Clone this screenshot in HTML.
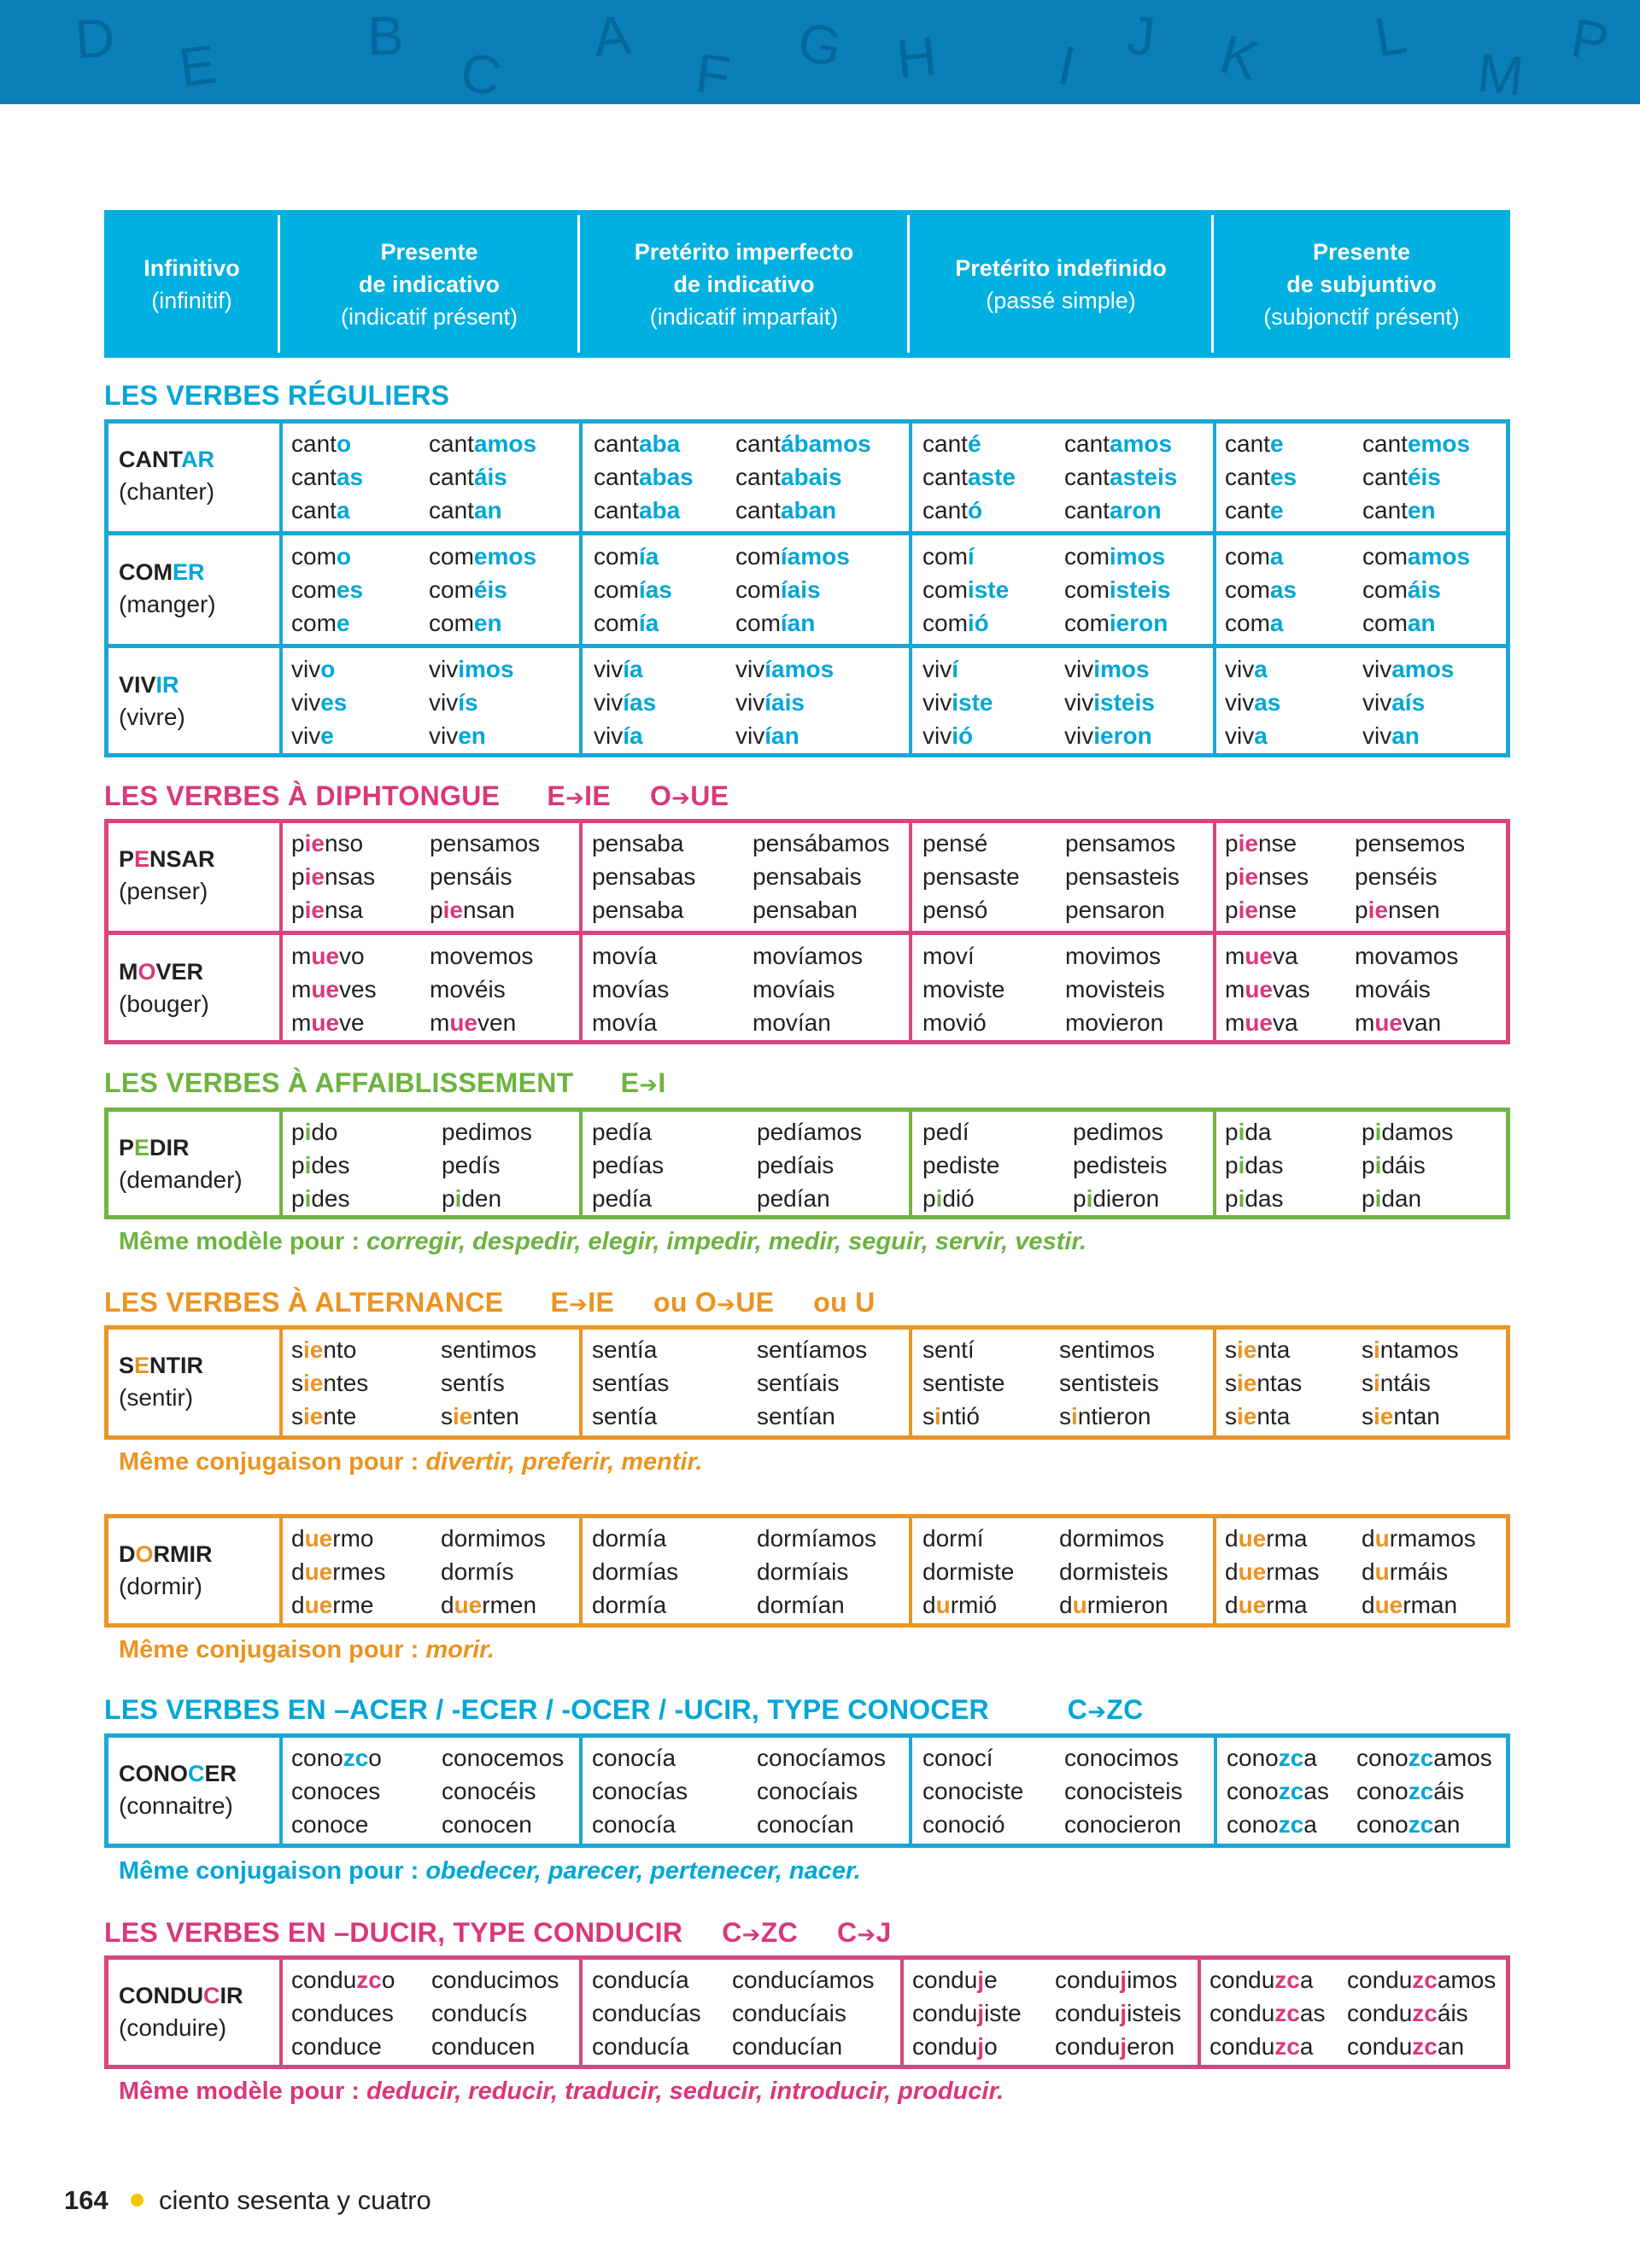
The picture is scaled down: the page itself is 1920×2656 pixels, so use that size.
<!DOCTYPE html>
<html><head><meta charset="utf-8">
<style>
*{margin:0;padding:0;box-sizing:border-box}
body{width:1920px;height:2656px;position:relative;background:#fff;font-family:"Liberation Sans",sans-serif;color:#231f20;overflow:hidden}
.band{position:absolute;left:0;top:0;width:1920px;height:122px;background:#0a7fb8;overflow:hidden}
.band span{position:absolute;color:#05689c;font-size:64px;font-family:"Liberation Sans",sans-serif}
.hdr{position:absolute;left:122px;top:246px;width:1646px;height:173px;background:#00b0e0}
.hc{position:absolute;top:0;height:173px;display:flex;flex-direction:column;justify-content:center;align-items:center;text-align:center;color:#fff;font-size:27px;line-height:38px}
.hc b{font-weight:bold}
.hd{position:absolute;top:6px;width:3px;height:161px;background:#fff}
.t{position:absolute;left:122px;font-weight:bold;font-size:32px;line-height:36px;letter-spacing:0.3px;white-space:nowrap}
.ar{font-family:"DejaVu Sans",sans-serif;font-size:26px}
.tb{position:absolute;left:122px;width:1646px;border:5px solid}
.v{position:absolute;top:0;bottom:0;width:4px}
.hl{position:absolute;left:0;right:0;height:5px}
.r{position:absolute;left:0;width:1920px;height:132px}
.w{position:absolute;top:9px;font-size:28px;line-height:39px;white-space:nowrap}
.inf{position:absolute;top:28px;left:139px;font-size:28px;line-height:38px;white-space:nowrap}
.inf strong{font-weight:bold;font-size:27px}
b{font-weight:bold}
.blue b,.blue .t{color:#00a6d6}
.pink b{color:#d9387a}
.green b{color:#6cb33f}
.orange b{color:#ec9320}
.note{position:absolute;left:139px;font-weight:bold;font-size:29px;line-height:32px;white-space:nowrap}
.note i{font-style:italic}
</style></head><body>
<div class="band">
<span style="left:88px;top:8px;transform:rotate(-4deg)">D</span>
<span style="left:210px;top:40px;transform:rotate(-8deg)">E</span>
<span style="left:430px;top:5px">B</span>
<span style="left:540px;top:50px;transform:rotate(10deg)">C</span>
<span style="left:695px;top:5px;transform:rotate(-6deg)">A</span>
<span style="left:815px;top:50px;transform:rotate(8deg)">F</span>
<span style="left:935px;top:15px;transform:rotate(10deg)">G</span>
<span style="left:1050px;top:30px;transform:rotate(-6deg)">H</span>
<span style="left:1240px;top:40px;transform:rotate(12deg)">I</span>
<span style="left:1320px;top:5px;transform:rotate(6deg)">J</span>
<span style="left:1430px;top:30px;transform:rotate(15deg)">K</span>
<span style="left:1610px;top:5px;transform:rotate(-10deg)">L</span>
<span style="left:1730px;top:50px;transform:rotate(6deg)">M</span>
<span style="left:1840px;top:10px;transform:rotate(10deg)">P</span>
</div>

<div class="hdr">
<div class="hc" style="left:0;width:205px"><b>Infinitivo</b><span>(infinitif)</span></div>
<div class="hd" style="left:203px"></div>
<div class="hc" style="left:205px;width:351px"><b>Presente</b><b>de indicativo</b><span>(indicatif présent)</span></div>
<div class="hd" style="left:554px"></div>
<div class="hc" style="left:556px;width:386px"><b>Pretérito imperfecto</b><b>de indicativo</b><span>(indicatif imparfait)</span></div>
<div class="hd" style="left:940px"></div>
<div class="hc" style="left:942px;width:356px"><b>Pretérito indefinido</b><span>(passé simple)</span></div>
<div class="hd" style="left:1296px"></div>
<div class="hc" style="left:1298px;width:348px"><b>Presente</b><b>de subjuntivo</b><span>(subjonctif présent)</span></div>
</div>

<!-- REGULARS -->
<div class="blue">
<div class="t" style="top:445px">LES VERBES RÉGULIERS</div>
<div class="tb" style="top:491px;height:396px;border-color:#1aa7d4">
<div class="v" style="left:200px;background:#1aa7d4"></div>
<div class="v" style="left:551px;background:#1aa7d4"></div>
<div class="v" style="left:937px;background:#1aa7d4"></div>
<div class="v" style="left:1293px;background:#1aa7d4"></div>
<div class="hl" style="top:126px;background:#1aa7d4"></div>
<div class="hl" style="top:258px;background:#1aa7d4"></div>
</div>
<div class="r" style="top:491px">
<div class="inf"><strong>CANT<b>AR</b></strong><br>(chanter)</div>
<div class="w" style="left:341px">cant<b>o</b><br>cant<b>as</b><br>cant<b>a</b></div>
<div class="w" style="left:502px">cant<b>amos</b><br>cant<b>áis</b><br>cant<b>an</b></div>
<div class="w" style="left:695px">cant<b>aba</b><br>cant<b>abas</b><br>cant<b>aba</b></div>
<div class="w" style="left:861px">cant<b>ábamos</b><br>cant<b>abais</b><br>cant<b>aban</b></div>
<div class="w" style="left:1080px">cant<b>é</b><br>cant<b>aste</b><br>cant<b>ó</b></div>
<div class="w" style="left:1246px">cant<b>amos</b><br>cant<b>asteis</b><br>cant<b>aron</b></div>
<div class="w" style="left:1434px">cant<b>e</b><br>cant<b>es</b><br>cant<b>e</b></div>
<div class="w" style="left:1595px">cant<b>emos</b><br>cant<b>éis</b><br>cant<b>en</b></div>
</div>
<div class="r" style="top:623px">
<div class="inf"><strong>COM<b>ER</b></strong><br>(manger)</div>
<div class="w" style="left:341px">com<b>o</b><br>com<b>es</b><br>com<b>e</b></div>
<div class="w" style="left:502px">com<b>emos</b><br>com<b>éis</b><br>com<b>en</b></div>
<div class="w" style="left:695px">com<b>ía</b><br>com<b>ías</b><br>com<b>ía</b></div>
<div class="w" style="left:861px">com<b>íamos</b><br>com<b>íais</b><br>com<b>ían</b></div>
<div class="w" style="left:1080px">com<b>í</b><br>com<b>iste</b><br>com<b>ió</b></div>
<div class="w" style="left:1246px">com<b>imos</b><br>com<b>isteis</b><br>com<b>ieron</b></div>
<div class="w" style="left:1434px">com<b>a</b><br>com<b>as</b><br>com<b>a</b></div>
<div class="w" style="left:1595px">com<b>amos</b><br>com<b>áis</b><br>com<b>an</b></div>
</div>
<div class="r" style="top:755px">
<div class="inf"><strong>VIV<b>IR</b></strong><br>(vivre)</div>
<div class="w" style="left:341px">viv<b>o</b><br>viv<b>es</b><br>viv<b>e</b></div>
<div class="w" style="left:502px">viv<b>imos</b><br>viv<b>ís</b><br>viv<b>en</b></div>
<div class="w" style="left:695px">viv<b>ía</b><br>viv<b>ías</b><br>viv<b>ía</b></div>
<div class="w" style="left:861px">viv<b>íamos</b><br>viv<b>íais</b><br>viv<b>ían</b></div>
<div class="w" style="left:1080px">viv<b>í</b><br>viv<b>iste</b><br>viv<b>ió</b></div>
<div class="w" style="left:1246px">viv<b>imos</b><br>viv<b>isteis</b><br>viv<b>ieron</b></div>
<div class="w" style="left:1434px">viv<b>a</b><br>viv<b>as</b><br>viv<b>a</b></div>
<div class="w" style="left:1595px">viv<b>amos</b><br>viv<b>aís</b><br>viv<b>an</b></div>
</div>
</div>

<!-- DIPHTONGUE -->
<div class="pink">
<div class="t" style="top:914px;color:#d9387a">LES VERBES À DIPHTONGUE &nbsp;&nbsp;&nbsp;&nbsp; E<span class="ar">➔</span>IE &nbsp;&nbsp;&nbsp; O<span class="ar">➔</span>UE</div>
<div class="tb" style="top:959px;height:264px;border-color:#d9457d">
<div class="v" style="left:200px;background:#d9457d"></div>
<div class="v" style="left:551px;background:#d9457d"></div>
<div class="v" style="left:937px;background:#d9457d"></div>
<div class="v" style="left:1293px;background:#d9457d"></div>
<div class="hl" style="top:126px;background:#d9457d"></div>
</div>
<div class="r" style="top:959px">
<div class="inf"><strong>P<b>E</b>NSAR</strong><br>(penser)</div>
<div class="w" style="left:341px">p<b>ie</b>nso<br>p<b>ie</b>nsas<br>p<b>ie</b>nsa</div>
<div class="w" style="left:503px">pensamos<br>pensáis<br>p<b>ie</b>nsan</div>
<div class="w" style="left:693px">pensaba<br>pensabas<br>pensaba</div>
<div class="w" style="left:881px">pensábamos<br>pensabais<br>pensaban</div>
<div class="w" style="left:1080px">pensé<br>pensaste<br>pensó</div>
<div class="w" style="left:1247px">pensamos<br>pensasteis<br>pensaron</div>
<div class="w" style="left:1434px">p<b>ie</b>nse<br>p<b>ie</b>nses<br>p<b>ie</b>nse</div>
<div class="w" style="left:1586px">pensemos<br>penséis<br>p<b>ie</b>nsen</div>
</div>
<div class="r" style="top:1091px">
<div class="inf"><strong>M<b>O</b>VER</strong><br>(bouger)</div>
<div class="w" style="left:341px">m<b>ue</b>vo<br>m<b>ue</b>ves<br>m<b>ue</b>ve</div>
<div class="w" style="left:503px">movemos<br>movéis<br>m<b>ue</b>ven</div>
<div class="w" style="left:693px">movía<br>movías<br>movía</div>
<div class="w" style="left:881px">movíamos<br>movíais<br>movían</div>
<div class="w" style="left:1080px">moví<br>moviste<br>movió</div>
<div class="w" style="left:1247px">movimos<br>movisteis<br>movieron</div>
<div class="w" style="left:1434px">m<b>ue</b>va<br>m<b>ue</b>vas<br>m<b>ue</b>va</div>
<div class="w" style="left:1586px">movamos<br>mováis<br>m<b>ue</b>van</div>
</div>
</div>

<!-- AFFAIBLISSEMENT -->
<div class="green">
<div class="t" style="top:1250px;color:#6cb33f">LES VERBES À AFFAIBLISSEMENT &nbsp;&nbsp;&nbsp;&nbsp; E<span class="ar">➔</span>I</div>
<div class="tb" style="top:1297px;height:131px;border-color:#72b443">
<div class="v" style="left:200px;background:#72b443"></div>
<div class="v" style="left:551px;background:#72b443"></div>
<div class="v" style="left:937px;background:#72b443"></div>
<div class="v" style="left:1293px;background:#72b443"></div>
</div>
<div class="r" style="top:1297px">
<div class="inf"><strong>P<b>E</b>DIR</strong><br>(demander)</div>
<div class="w" style="left:341px">p<b>i</b>do<br>p<b>i</b>des<br>p<b>i</b>des</div>
<div class="w" style="left:517px">pedimos<br>pedís<br>p<b>i</b>den</div>
<div class="w" style="left:693px">pedía<br>pedías<br>pedía</div>
<div class="w" style="left:886px">pedíamos<br>pedíais<br>pedían</div>
<div class="w" style="left:1080px">pedí<br>pediste<br>p<b>i</b>dió</div>
<div class="w" style="left:1256px">pedimos<br>pedisteis<br>p<b>i</b>dieron</div>
<div class="w" style="left:1434px">p<b>i</b>da<br>p<b>i</b>das<br>p<b>i</b>das</div>
<div class="w" style="left:1594px">p<b>i</b>damos<br>p<b>i</b>dáis<br>p<b>i</b>dan</div>
</div>
<div class="note" style="top:1438px;color:#6cb33f">Même modèle pour : <i>corregir, despedir, elegir, impedir, medir, seguir, servir, vestir.</i></div>
</div>

<!-- ALTERNANCE -->
<div class="orange">
<div class="t" style="top:1507px;color:#ec9320">LES VERBES À ALTERNANCE &nbsp;&nbsp;&nbsp;&nbsp; E<span class="ar">➔</span>IE &nbsp;&nbsp;&nbsp; ou O<span class="ar">➔</span>UE &nbsp;&nbsp;&nbsp; ou U</div>
<div class="tb" style="top:1552px;height:134px;border-color:#ea9428">
<div class="v" style="left:200px;background:#ea9428"></div>
<div class="v" style="left:551px;background:#ea9428"></div>
<div class="v" style="left:937px;background:#ea9428"></div>
<div class="v" style="left:1293px;background:#ea9428"></div>
</div>
<div class="r" style="top:1552px">
<div class="inf"><strong>S<b>E</b>NTIR</strong><br>(sentir)</div>
<div class="w" style="left:341px">s<b>ie</b>nto<br>s<b>ie</b>ntes<br>s<b>ie</b>nte</div>
<div class="w" style="left:516px">sentimos<br>sentís<br>s<b>ie</b>nten</div>
<div class="w" style="left:693px">sentía<br>sentías<br>sentía</div>
<div class="w" style="left:886px">sentíamos<br>sentíais<br>sentían</div>
<div class="w" style="left:1080px">sentí<br>sentiste<br>s<b>i</b>ntió</div>
<div class="w" style="left:1240px">sentimos<br>sentisteis<br>s<b>i</b>ntieron</div>
<div class="w" style="left:1434px">s<b>ie</b>nta<br>s<b>ie</b>ntas<br>s<b>ie</b>nta</div>
<div class="w" style="left:1594px">s<b>i</b>ntamos<br>s<b>i</b>ntáis<br>s<b>ie</b>ntan</div>
</div>
<div class="note" style="top:1696px;color:#ec9320">Même conjugaison pour : <i>divertir, preferir, mentir.</i></div>

<div class="tb" style="top:1773px;height:133px;border-color:#ea9428">
<div class="v" style="left:200px;background:#ea9428"></div>
<div class="v" style="left:551px;background:#ea9428"></div>
<div class="v" style="left:937px;background:#ea9428"></div>
<div class="v" style="left:1293px;background:#ea9428"></div>
</div>
<div class="r" style="top:1773px">
<div class="inf"><strong>D<b>O</b>RMIR</strong><br>(dormir)</div>
<div class="w" style="left:341px">d<b>ue</b>rmo<br>d<b>ue</b>rmes<br>d<b>ue</b>rme</div>
<div class="w" style="left:516px">dormimos<br>dormís<br>d<b>ue</b>rmen</div>
<div class="w" style="left:693px">dormía<br>dormías<br>dormía</div>
<div class="w" style="left:886px">dormíamos<br>dormíais<br>dormían</div>
<div class="w" style="left:1080px">dormí<br>dormiste<br>d<b>u</b>rmió</div>
<div class="w" style="left:1240px">dormimos<br>dormisteis<br>d<b>u</b>rmieron</div>
<div class="w" style="left:1434px">d<b>ue</b>rma<br>d<b>ue</b>rmas<br>d<b>ue</b>rma</div>
<div class="w" style="left:1594px">d<b>u</b>rmamos<br>d<b>u</b>rmáis<br>d<b>ue</b>rman</div>
</div>
<div class="note" style="top:1916px;color:#ec9320">Même conjugaison pour : <i>morir.</i></div>
</div>

<!-- CONOCER -->
<div class="blue">
<div class="t" style="top:1984px">LES VERBES EN –ACER / -ECER / -OCER / -UCIR, TYPE CONOCER &nbsp;&nbsp;&nbsp;&nbsp;&nbsp;&nbsp;&nbsp;&nbsp; C<span class="ar">➔</span>ZC</div>
<div class="tb" style="top:2030px;height:134px;border-color:#1aa7d4">
<div class="v" style="left:200px;background:#1aa7d4"></div>
<div class="v" style="left:551px;background:#1aa7d4"></div>
<div class="v" style="left:937px;background:#1aa7d4"></div>
<div class="v" style="left:1294px;background:#1aa7d4"></div>
</div>
<div class="r" style="top:2030px">
<div class="inf"><strong>CONO<b>C</b>ER</strong><br>(connaitre)</div>
<div class="w" style="left:341px">cono<b>zc</b>o<br>conoces<br>conoce</div>
<div class="w" style="left:517px">conocemos<br>conocéis<br>conocen</div>
<div class="w" style="left:693px">conocía<br>conocías<br>conocía</div>
<div class="w" style="left:886px">conocíamos<br>conocíais<br>conocían</div>
<div class="w" style="left:1080px">conocí<br>conociste<br>conoció</div>
<div class="w" style="left:1246px">conocimos<br>conocisteis<br>conocieron</div>
<div class="w" style="left:1436px">cono<b>zc</b>a<br>cono<b>zc</b>as<br>cono<b>zc</b>a</div>
<div class="w" style="left:1588px">cono<b>zc</b>amos<br>cono<b>zc</b>áis<br>cono<b>zc</b>an</div>
</div>
<div class="note" style="top:2175px;color:#00a6d6">Même conjugaison pour : <i>obedecer, parecer, pertenecer, nacer.</i></div>
</div>

<!-- CONDUCIR -->
<div class="pink">
<div class="t" style="top:2245px;color:#d9387a">LES VERBES EN –DUCIR, TYPE CONDUCIR &nbsp;&nbsp;&nbsp; C<span class="ar">➔</span>ZC &nbsp;&nbsp;&nbsp; C<span class="ar">➔</span>J</div>
<div class="tb" style="top:2290px;height:133px;border-color:#d9457d">
<div class="v" style="left:200px;background:#d9457d"></div>
<div class="v" style="left:551px;background:#d9457d"></div>
<div class="v" style="left:927px;background:#d9457d"></div>
<div class="v" style="left:1275px;background:#d9457d"></div>
</div>
<div class="r" style="top:2290px">
<div class="inf"><strong>CONDU<b>C</b>IR</strong><br>(conduire)</div>
<div class="w" style="left:341px">condu<b>zc</b>o<br>conduces<br>conduce</div>
<div class="w" style="left:505px">conducimos<br>conducís<br>conducen</div>
<div class="w" style="left:693px">conducía<br>conducías<br>conducía</div>
<div class="w" style="left:857px">conducíamos<br>conducíais<br>conducían</div>
<div class="w" style="left:1068px">condu<b>j</b>e<br>condu<b>j</b>iste<br>condu<b>j</b>o</div>
<div class="w" style="left:1235px">condu<b>j</b>imos<br>condu<b>j</b>isteis<br>condu<b>j</b>eron</div>
<div class="w" style="left:1416px">condu<b>zc</b>a<br>condu<b>zc</b>as<br>condu<b>zc</b>a</div>
<div class="w" style="left:1577px">condu<b>zc</b>amos<br>condu<b>zc</b>áis<br>condu<b>zc</b>an</div>
</div>
<div class="note" style="top:2433px;color:#d9387a">Même modèle pour : <i>deducir, reducir, traducir, seducir, introducir, producir.</i></div>
</div>

<!-- FOOTER -->
<div style="position:absolute;left:75px;top:2558px;font-size:31px;line-height:38px;font-weight:bold">164</div>
<div style="position:absolute;left:153px;top:2569px;width:15px;height:15px;border-radius:50%;background:#f5c400"></div>
<div style="position:absolute;left:186px;top:2558px;font-size:31px;line-height:38px">ciento sesenta y cuatro</div>
</body></html>
